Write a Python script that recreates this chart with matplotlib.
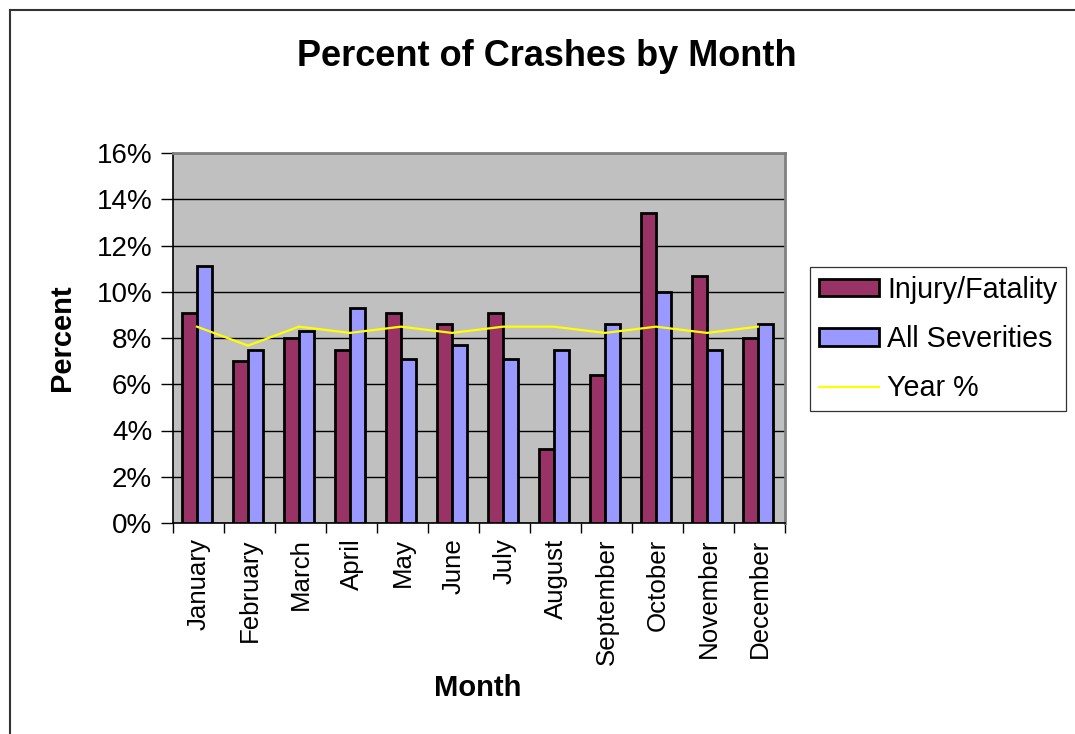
import matplotlib
matplotlib.use("Agg")
import matplotlib.pyplot as plt
from matplotlib.lines import Line2D
import numpy as np

months = ["January", "February", "March", "April", "May", "June", "July",
          "August", "September", "October", "November", "December"]
injury_fatality = [9.1, 7.0, 8.0, 7.5, 9.1, 8.6, 9.1, 3.2, 6.4, 13.4, 10.7, 8.0]
all_severities = [11.1, 7.5, 8.3, 9.3, 7.1, 7.7, 7.1, 7.5, 8.6, 10.0, 7.5, 8.6]
year_pct = [8.49, 7.67, 8.49, 8.22, 8.49, 8.22, 8.49, 8.49, 8.22, 8.49, 8.22, 8.49]
y_ticks = [0, 2, 4, 6, 8, 10, 12, 14, 16]
y_tick_labels = ["0%", "2%", "4%", "6%", "8%", "10%", "12%", "14%", "16%"]

plt.rcParams['font.family'] = ['Liberation Sans', 'DejaVu Sans']

W, H = 1075, 734
fig = plt.figure(figsize=(W / 100, H / 100), dpi=100)
fig.patch.set_facecolor("white")

ax = fig.add_axes([173 / W, 1 - 523 / H, (785 - 173) / W, (523 - 153) / H])
ax.set_facecolor("#C0C0C0")

x = np.arange(len(months))
bw = 0.285
off = -0.03
b1 = ax.bar(x + off - bw / 2, injury_fatality, width=bw, color="#993366",
            edgecolor="black", linewidth=2.0, label="Injury/Fatality", zorder=3)
b2 = ax.bar(x + off + bw / 2, all_severities, width=bw, color="#9999FF",
            edgecolor="black", linewidth=2.0, label="All Severities", zorder=3)
l1, = ax.plot(x + off, year_pct, color="#FFFF00", linewidth=1.6, label="Year %", zorder=4)

ax.set_xlim(-0.5, len(months) - 0.5)
ax.set_ylim(0, 16)
ax.set_yticks(y_ticks)
ax.set_yticklabels(y_tick_labels, fontsize=20)
ax.yaxis.grid(True, color="black", linewidth=1.0, zorder=1)
ax.set_axisbelow(True)

ax.set_xticks(x)
ax.set_xticklabels(months, rotation=90, fontsize=18.6, va="top")
ax.tick_params(axis="x", length=0, pad=11)
ax.set_xticks(np.arange(-0.5, len(months), 1.0), minor=True)
ax.tick_params(axis="x", which="minor", length=7, width=1, color="black", direction="out")
ax.tick_params(axis="y", length=9, width=1, color="black", direction="out", pad=6)

for s in ["top", "right"]:
    ax.spines[s].set_color("#808080")
    ax.spines[s].set_linewidth(2)
for s in ["left", "bottom"]:
    ax.spines[s].set_color("black")
    ax.spines[s].set_linewidth(1.2)

fig.text(547 / W, 1 - 57 / H, "Percent of Crashes by Month", ha="center", va="center",
         fontsize=26, fontweight="bold")
fig.text(62 / W, 1 - 338 / H, "Percent", ha="center", va="center", rotation=90,
         fontsize=21, fontweight="bold")
fig.text(478 / W, 1 - 688 / H, "Month", ha="center", va="center",
         fontsize=21, fontweight="bold")

leg = fig.legend([b1, b2, l1], ["Injury/Fatality", "All Severities", "Year %"],
                 loc="upper left", bbox_to_anchor=(810 / W, 1 - 267 / H),
                 bbox_transform=fig.transFigure, fontsize=20.6, frameon=True,
                 fancybox=False, shadow=False, borderaxespad=0, borderpad=0.3,
                 handlelength=2.1, handleheight=0.55, handletextpad=0.3,
                 labelspacing=0.75)
leg.get_frame().set_edgecolor("black")
leg.get_frame().set_linewidth(0.9)
leg.get_frame().set_facecolor("white")

fig.add_artist(Line2D([9.5 / W, 1.0], [1 - 10 / H, 1 - 10 / H], transform=fig.transFigure,
                      color="#333333", linewidth=1.5))
fig.add_artist(Line2D([9.5 / W, 9.5 / W], [1 - 10 / H, 0.0], transform=fig.transFigure,
                      color="#333333", linewidth=1.5))

fig.savefig("out.png", dpi=100)
